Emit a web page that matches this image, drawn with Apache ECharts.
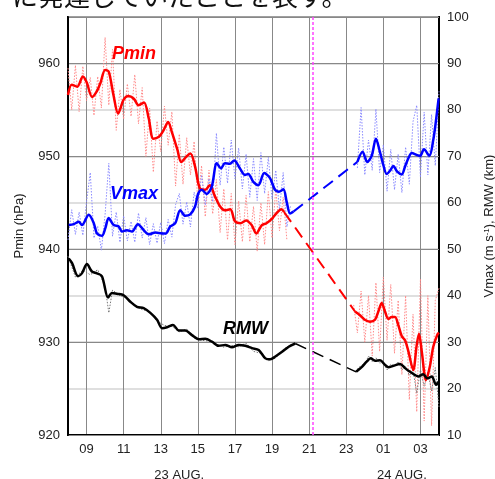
<!DOCTYPE html>
<html>
<head>
<meta charset="utf-8">
<script src="https://cdn.jsdelivr.net/npm/echarts@6.0.0/dist/echarts.min.js"></script>
<style>
html, body { margin: 0; padding: 0; background: #fff; }
#main { width: 495px; height: 479px; }
</style>
</head>
<body>
<div id="main"></div>
<script>
// hours counted from 23 AUG 00:00, 24 AUG 01:00 = 25
var hourTicks = [9, 11, 13, 15, 17, 19, 21, 23, 25, 27];
var dayTicks = [14, 26];
var dayLabels = { 14: '23 AUG.', 26: '24 AUG.' };
var markerHour = 21.2;

// smoothed Pmin (hPa)
var pminA = [[8.0, 956.6], [8.2, 957.7], [8.5, 957.5], [8.8, 958.6], [9.0, 958.0], [9.3, 956.4], [9.55, 957.0], [9.75, 957.9],
  [10.0, 959.3], [10.2, 959.1], [10.45, 956.6], [10.7, 954.6], [11.0, 956.1], [11.25, 956.5], [11.55, 956.2], [11.8, 955.5],
  [12.1, 955.8], [12.35, 954.1], [12.6, 951.9], [12.9, 952.1], [13.15, 952.8], [13.4, 953.7], [13.6, 952.6], [13.9, 950.7],
  [14.1, 949.4], [14.4, 950.0], [14.6, 950.3], [14.85, 948.9], [15.1, 946.6], [15.4, 946.4], [15.65, 946.9], [15.9, 945.8],
  [16.2, 944.6], [16.45, 944.2], [16.75, 944.3], [17.0, 943.0], [17.3, 942.8], [17.6, 943.1], [17.9, 942.6], [18.15, 941.7],
  [18.45, 942.6], [18.7, 942.8], [19.0, 943.3], [19.25, 943.9], [19.5, 944.3], [19.65, 944.0]];
var pminB = [[23.47, 933.3], [23.74, 932.9], [24.0, 932.4], [24.28, 932.2], [24.55, 932.4], [24.73, 933.3], [24.91, 934.2],
  [25.09, 933.3], [25.27, 932.5], [25.45, 932.7], [25.63, 932.7], [25.81, 931.8], [26.0, 930.6], [26.17, 930.2], [26.35, 929.0],
  [26.61, 927.0], [26.8, 929.7], [26.92, 930.9], [27.07, 929.0], [27.3, 925.9], [27.51, 927.4], [27.69, 929.5], [27.91, 930.8], [28.0, 931.0]];

// smoothed Vmax (m/s)
var vmaxA = [[8.04, 55.2], [8.31, 55.4], [8.58, 55.9], [8.75, 55.2], [9.12, 57.4], [9.39, 55.6], [9.56, 53.4], [9.83, 52.9],
  [10.01, 54.5], [10.19, 56.7], [10.46, 55.2], [10.73, 54.9], [10.91, 53.8], [11.18, 54.1], [11.45, 53.8], [11.77, 55.4],
  [12.08, 54.1], [12.35, 53.2], [12.71, 53.6], [13.07, 53.4], [13.28, 53.4], [13.51, 54.9], [13.78, 55.6], [14.05, 58.4],
  [14.32, 57.2], [14.59, 57.5], [14.85, 59.2], [15.02, 62.0], [15.21, 62.8], [15.48, 61.9], [15.75, 63.5], [16.02, 68.5],
  [16.25, 67.4], [16.46, 68.5], [16.73, 68.4], [16.96, 69.1], [17.27, 67.4], [17.54, 66.0], [17.72, 66.2], [17.99, 64.5],
  [18.26, 63.8], [18.58, 66.4], [18.89, 65.3], [19.16, 62.8], [19.37, 62.4], [19.61, 62.9], [19.79, 60.2], [19.97, 57.7], [20.15, 58.1]];
var vmaxB = [[23.6, 68.8], [23.88, 71.0], [24.13, 68.8], [24.37, 70.1], [24.6, 73.8], [24.8, 71.2], [25.0, 68.1], [25.18, 66.2],
  [25.36, 66.9], [25.54, 67.9], [25.75, 66.7], [25.99, 66.1], [26.17, 67.8], [26.35, 69.6], [26.53, 70.7], [26.8, 70.3],
  [26.98, 70.1], [27.19, 71.5], [27.48, 70.1], [27.69, 73.5], [27.84, 77.8], [27.98, 82.5]];

// smoothed RMW (km)
var rmwA = [[8.04, 48.0], [8.22, 47.0], [8.54, 44.2], [8.75, 44.8], [9.02, 46.8], [9.29, 45.2], [9.56, 44.8], [9.83, 44.2],
  [10.16, 39.6], [10.37, 40.6], [10.64, 40.4], [11.0, 40.1], [11.36, 38.7], [11.72, 37.6], [12.08, 37.3], [12.44, 36.3],
  [12.8, 34.8], [13.07, 33.0], [13.34, 33.2], [13.66, 33.7], [13.97, 32.5], [14.32, 32.5], [14.68, 31.5], [15.05, 30.6],
  [15.4, 30.7], [15.76, 30.1], [16.12, 29.2], [16.48, 29.4], [16.84, 28.9], [17.2, 29.4], [17.56, 29.2], [17.92, 28.7],
  [18.28, 28.3], [18.64, 26.5], [18.91, 26.3], [19.18, 26.9], [19.54, 27.9], [19.9, 29.0], [20.25, 29.7]];
var rmwB = [[23.53, 23.6], [23.83, 24.6], [24.1, 25.8], [24.32, 26.5], [24.55, 26.0], [24.82, 26.1], [25.09, 25.1], [25.27, 24.6],
  [25.54, 24.9], [25.9, 25.3], [26.17, 24.4], [26.44, 23.6], [26.71, 22.9], [26.89, 22.6], [27.15, 23.1], [27.37, 22.2],
  [27.61, 22.6], [27.84, 20.8], [27.98, 21.5]];

// raw (dotted) values
var pminRawA = [[8.0, 959.5], [8.2, 955.0], [8.4, 959.8], [8.6, 954.8], [8.8, 959.7], [9.0, 956.0], [9.2, 958.5], [9.4, 954.4],
  [9.6, 958.6], [9.8, 955.2], [10.0, 962.8], [10.2, 955.5], [10.4, 961.5], [10.6, 952.8], [10.8, 957.2], [11.0, 954.0],
  [11.2, 957.8], [11.4, 954.3], [11.6, 958.8], [11.8, 953.5], [12.0, 957.4], [12.2, 950.0], [12.4, 955.2], [12.6, 948.3],
  [12.8, 953.8], [13.0, 950.5], [13.2, 955.4], [13.4, 951.2], [13.6, 954.8], [13.8, 946.8], [14.0, 952.4], [14.2, 947.0],
  [14.4, 952.0], [14.6, 948.0], [14.8, 951.6], [15.0, 945.0], [15.2, 949.0], [15.4, 943.5], [15.6, 948.5], [15.8, 943.8],
  [16.0, 947.5], [16.2, 941.8], [16.4, 946.5], [16.6, 941.0], [16.8, 946.0], [17.0, 940.5], [17.2, 945.2], [17.4, 940.8],
  [17.6, 945.8], [17.8, 940.8], [18.0, 944.6], [18.2, 939.8], [18.4, 945.0], [18.6, 940.5], [18.8, 946.2], [19.0, 941.2],
  [19.2, 946.5], [19.4, 942.0], [19.6, 945.6], [19.8, 941.0]];
var pminRawB = [[23.4, 934.0], [23.6, 931.0], [23.8, 935.5], [24.0, 930.0], [24.2, 935.0], [24.4, 928.5], [24.6, 936.4],
  [24.8, 929.0], [25.0, 937.0], [25.2, 930.2], [25.4, 936.2], [25.6, 928.8], [25.8, 934.5], [26.0, 926.5], [26.2, 935.0],
  [26.4, 923.8], [26.6, 933.0], [26.8, 922.5], [27.0, 936.8], [27.2, 921.5], [27.4, 935.0], [27.6, 921.0], [27.8, 934.5], [28.0, 935.8]];
var vmaxRawA = [[8.0, 52.0], [8.2, 58.5], [8.4, 53.2], [8.6, 58.0], [8.8, 53.0], [9.0, 60.2], [9.2, 66.5], [9.4, 52.4],
  [9.6, 55.0], [9.8, 49.8], [10.0, 57.5], [10.2, 68.5], [10.4, 52.8], [10.6, 58.0], [10.8, 51.5], [11.0, 57.2], [11.2, 51.8],
  [11.4, 56.0], [11.6, 51.5], [11.8, 57.8], [12.0, 52.4], [12.2, 56.8], [12.4, 51.0], [12.6, 55.5], [12.8, 51.3], [13.0, 55.8],
  [13.2, 51.2], [13.4, 56.4], [13.6, 52.6], [13.8, 59.6], [14.0, 62.0], [14.2, 55.4], [14.4, 60.2], [14.6, 54.8], [14.8, 62.3],
  [15.0, 58.8], [15.2, 66.0], [15.4, 59.5], [15.6, 65.2], [15.8, 60.2], [16.0, 75.0], [16.2, 63.8], [16.4, 72.0], [16.6, 64.2],
  [16.8, 73.5], [17.0, 65.2], [17.2, 71.8], [17.4, 63.0], [17.6, 70.5], [17.8, 61.2], [18.0, 69.5], [18.2, 60.5], [18.4, 70.8],
  [18.6, 62.0], [18.8, 69.8], [19.0, 60.8], [19.2, 67.0], [19.4, 58.5], [19.6, 66.5], [19.8, 54.8], [20.0, 59.5]];
var vmaxRawB = [[23.6, 67.5], [23.8, 80.5], [24.0, 66.0], [24.2, 73.5], [24.4, 67.0], [24.6, 80.2], [24.8, 66.5], [25.0, 72.5],
  [25.2, 62.5], [25.4, 71.5], [25.6, 62.8], [25.8, 70.5], [26.0, 62.2], [26.2, 72.0], [26.4, 64.0], [26.6, 77.5], [26.8, 81.0],
  [27.0, 65.5], [27.2, 79.5], [27.4, 66.0], [27.6, 79.0], [27.8, 68.0], [28.0, 84.0]];
var rmwRawA = [[8.0, 48.5], [8.4, 44.0], [8.8, 45.5], [9.2, 44.5], [9.6, 45.6], [10.0, 42.0], [10.2, 36.3], [10.4, 41.2],
  [10.8, 40.0], [11.2, 39.4], [11.6, 37.8], [12.0, 37.0], [12.4, 36.6], [12.8, 34.5], [13.2, 33.6], [13.6, 33.4], [14.0, 32.2],
  [14.4, 32.8], [14.8, 30.9], [15.2, 30.4], [15.6, 30.2], [16.0, 29.6], [16.4, 28.9], [16.8, 29.3], [17.2, 29.0], [17.6, 29.8],
  [18.0, 28.0], [18.4, 27.6], [18.8, 26.0], [19.2, 26.6], [19.6, 28.4], [20.0, 29.5]];
var rmwRawB = [[23.6, 24.2], [23.8, 25.0], [24.0, 25.2], [24.2, 27.0], [24.4, 25.8], [24.6, 26.6], [24.8, 25.5], [25.0, 25.6],
  [25.2, 24.0], [25.4, 25.2], [25.6, 24.8], [25.8, 25.8], [26.0, 24.0], [26.2, 24.8], [26.4, 22.8], [26.6, 24.0], [26.8, 19.0],
  [27.0, 24.0], [27.2, 20.5], [27.4, 23.5], [27.6, 19.5], [27.8, 24.5], [28.0, 16.0]];

function gap(a, b) {
    return [a[a.length - 1], b[0]];
}

function line(data, axis, color, width, type, z, smooth) {
    return {
        type: 'line',
        data: data,
        yAxisIndex: axis,
        symbol: 'none',
        silent: true,
        smooth: smooth || false,
        z: z,
        lineStyle: { color: color, width: width, type: type }
    };
}

var font = 'Liberation Sans, Arial, sans-serif';
var myChart = echarts.init(document.getElementById('main'));

var pminGap = line(gap(pminA, pminB), 0, '#ff0000', 2, [12, 7], 4);
pminGap.markLine = {
    silent: true,
    symbol: ['none', 'none'],
    label: { show: false },
    lineStyle: { color: '#ff44ff', width: 1.5, type: [3, 2] },
    data: [{ xAxis: markerHour }]
};

var option = {
    animation: false,
    grid: {
        left: 68, right: 56, top: 17, bottom: 44,
        outerBoundsMode: 'none', containLabel: false,
        show: true, borderColor: '#000', borderWidth: 2
    },
    xAxis: [{
        type: 'value', min: 8, max: 28,
        axisLine: { lineStyle: { color: '#000', width: 2 } },
        axisTick: { show: false, customValues: hourTicks },
        splitLine: { show: true, lineStyle: { color: '#888', width: 1 } },
        axisLabel: {
            customValues: hourTicks, margin: 8, color: '#222', fontSize: 13, fontFamily: font,
            formatter: function (v) { var h = v % 24; return (h < 10 ? '0' : '') + h; }
        }
    }, {
        type: 'value', min: 8, max: 28, position: 'bottom', offset: 26,
        axisLine: { show: false }, axisTick: { show: false }, splitLine: { show: false },
        axisLabel: {
            customValues: dayTicks, color: '#222', fontSize: 13, fontFamily: font,
            formatter: function (v) { return dayLabels[v] || ''; }
        }
    }],
    yAxis: [{
        type: 'value', min: 920, max: 965, interval: 10, z: 1,
        name: 'Pmin (hPa)', nameLocation: 'middle', nameGap: 42,
        nameTextStyle: { color: '#222', fontSize: 13, fontFamily: font },
        axisLine: { show: true, lineStyle: { color: '#000', width: 2 } },
        axisTick: { show: false },
        splitLine: { lineStyle: { color: '#888', width: 1 } },
        axisLabel: { showMaxLabel: false, color: '#222', fontSize: 13, fontFamily: font, margin: 8 }
    }, {
        type: 'value', min: 10, max: 100, interval: 10, position: 'right',
        name: 'Vmax (m s{sup|-1}), RMW (km)', nameLocation: 'middle', nameGap: 44,
        nameTextStyle: {
            color: '#222', fontSize: 13, fontFamily: font,
            rich: { sup: { fontSize: 8, verticalAlign: 'top', color: '#222', fontFamily: font } }
        },
        axisLine: { show: true, lineStyle: { color: '#000', width: 2 } },
        axisTick: { show: false },
        splitLine: { lineStyle: { color: '#d4d4d4', width: 1.5 } },
        axisLabel: { color: '#222', fontSize: 13, fontFamily: font, margin: 8 }
    }],
    graphic: [
        { type: 'text', x: 12, y: -4, style: { text: 'に発達していたことを表す。', fill: '#111', font: '26px "Noto Sans CJK JP"', verticalAlign: 'middle' } },
        { type: 'text', x: 112, y: 54, z: 10, style: { text: 'Pmin', fill: '#ff0000', font: 'italic bold 18px ' + font, verticalAlign: 'middle' } },
        { type: 'text', x: 110, y: 194, z: 10, style: { text: 'Vmax', fill: '#0000ff', font: 'italic bold 18px ' + font, verticalAlign: 'middle' } },
        { type: 'text', x: 223, y: 329, z: 10, style: { text: 'RMW', fill: '#000', font: 'italic bold 18px ' + font, verticalAlign: 'middle' } }
    ],
    series: [
        line(pminRawA, 0, '#ff8a8a', 1, [1.5, 1.5], 2),
        line(pminRawB, 0, '#ff8a8a', 1, [1.5, 1.5], 2),
        line(vmaxRawA, 1, '#8a8aff', 1, [1.5, 1.5], 2),
        line(vmaxRawB, 1, '#8a8aff', 1, [1.5, 1.5], 2),
        line(rmwRawA, 1, '#777', 1, [1.5, 1.5], 2),
        line(rmwRawB, 1, '#777', 1, [1.5, 1.5], 2),
        pminGap,
        line(gap(vmaxA, vmaxB), 1, '#0000ff', 2, [12, 7], 4),
        line(gap(rmwA, rmwB), 1, '#000', 1.5, [12, 7], 4),
        line(pminA, 0, '#ff0000', 2.5, 'solid', 5, 0.3),
        line(pminB, 0, '#ff0000', 2.5, 'solid', 5, 0.3),
        line(vmaxA, 1, '#0000ff', 2.5, 'solid', 5, 0.3),
        line(vmaxB, 1, '#0000ff', 2.5, 'solid', 5, 0.3),
        line(rmwA, 1, '#000', 2.5, 'solid', 5, 0.3),
        line(rmwB, 1, '#000', 2.5, 'solid', 5, 0.3)
    ]
};
myChart.setOption(option);
</script>
</body>
</html>
